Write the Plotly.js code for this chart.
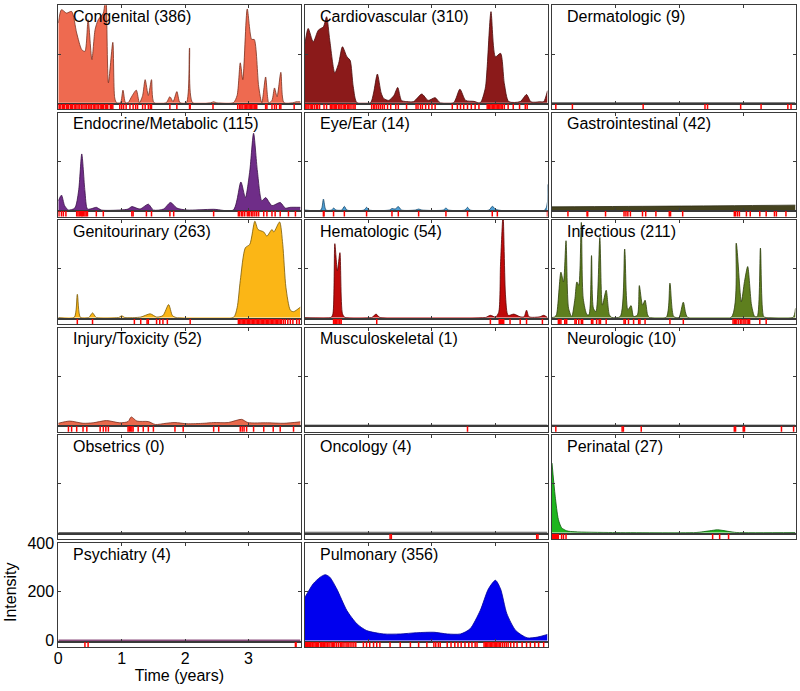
<!DOCTYPE html>
<html>
<head>
<meta charset="utf-8">
<script src="https://cdn.plot.ly/plotly-3.0.1.min.js"></script>
<style>html,body{margin:0;padding:0;background:#fff;}#chart{width:800px;height:691px;}</style>
</head>
<body>
<div id="chart"></div>
<script>
// ---------------- DATA ----------------
const categories = ["Congenital","Cardiovascular","Dermatologic","Endocrine/Metabolic","Eye/Ear","Gastrointestinal","Genitourinary","Hematologic","Infectious","Injury/Toxicity","Musculoskeletal","Neurologic","Obsetrics","Oncology","Perinatal","Psychiatry","Pulmonary"];
const counts = [386,310,9,115,14,42,263,54,211,52,1,10,0,4,27,4,356];
const xTickVals = [0,1,2,3];
const xTickText = ["0","1","2","3"];
const yTickVals = [0,200,400];
const yTickText = ["0","200","400"];

const congenitalTime = [0,0.05,0.13,0.21,0.29,0.37,0.42,0.47,0.53,0.58,0.63,0.71,0.75,0.79,0.86,0.89,0.92,0.98,1.02,1.06,1.1,1.16,1.23,1.28,1.33,1.37,1.42,1.47,1.51,1.7,1.76,1.81,1.87,1.92,2.02,2.07,2.12,2.4,2.45,2.5,2.76,2.82,2.87,2.91,2.98,3.05,3.09,3.16,3.21,3.27,3.32,3.37,3.41,3.45,3.51,3.56,3.7,3.75,3.82];
const congenitalIntensity = [327,382,368,375,286,218,211,341,177,300,341,368,450,82,248,20,0,0,52,0,0,27,52,0,30,95,30,95,0,0,25,5,46,0,0,225,0,0,4,0,0,30,164,95,385,260,260,68,0,106,0,10,61,25,125,0,0,4,4];
const congenitalEvents = [0.01,0.02,0.04,0.07,0.08,0.1,0.13,0.15,0.16,0.19,0.21,0.22,0.25,0.27,0.28,0.31,0.33,0.36,0.37,0.39,0.42,0.44,0.45,0.48,0.5,0.52,0.55,0.57,0.58,0.61,0.63,0.66,0.68,0.7,0.71,0.74,0.76,0.78,0.82,0.84,0.86,0.97,1.0,1.03,1.07,1.13,1.18,1.22,1.25,1.33,1.37,1.42,1.45,1.47,1.76,1.87,2.07,2.08,2.44,2.83,2.86,2.88,2.9,2.93,2.95,2.97,2.99,3.01,3.03,3.05,3.07,3.09,3.11,3.13,3.27,3.29,3.37,3.41,3.44,3.49,3.51,3.72];

const cardiovascularTime = [0,0.05,0.13,0.21,0.29,0.34,0.39,0.47,0.53,0.59,0.66,0.71,0.76,0.82,1.03,1.08,1.14,1.2,1.24,1.32,1.4,1.46,1.52,1.6,1.71,1.84,1.94,2.05,2.13,2.34,2.44,2.53,2.66,2.76,2.84,2.87,2.93,3.0,3.08,3.14,3.21,3.39,3.49,3.56,3.7,3.76,3.82];
const cardiovascularIntensity = [244,305,250,298,312,353,257,123,162,230,189,175,66,0,0,40,118,40,18,10,30,63,10,5,5,36,10,21,0,0,56,10,6,0,60,148,374,189,203,79,5,5,34,4,4,5,50];
const cardiovascularEvents = [0.01,0.03,0.05,0.08,0.1,0.12,0.15,0.18,0.2,0.23,0.3,0.34,0.4,0.42,0.44,0.46,0.48,0.5,0.53,0.55,0.57,0.6,0.62,0.64,0.67,0.69,0.71,0.74,0.77,0.79,1.05,1.08,1.1,1.13,1.16,1.19,1.22,1.25,1.3,1.35,1.43,1.47,1.6,1.75,1.78,1.82,1.85,1.9,1.95,2.0,2.05,2.32,2.4,2.45,2.5,2.56,2.62,2.68,2.74,2.87,2.89,2.91,2.93,2.95,2.97,2.99,3.01,3.03,3.05,3.07,3.09,3.11,3.14,3.2,3.28,3.38,3.47,3.5];

const dermatologicTime = [0,3.82];
const dermatologicIntensity = [1,1];
const dermatologicEvents = [0.06,0.32,1.43,2.4,2.44,2.96,3.28,3.7,3.75];

const endocrineTime = [0,0.05,0.1,0.16,0.26,0.32,0.37,0.42,0.46,0.53,0.6,0.68,0.97,1.1,1.16,1.29,1.42,1.5,1.66,1.77,1.87,2.03,2.45,2.76,2.88,2.95,3.02,3.08,3.14,3.21,3.27,3.37,3.5,3.58,3.66,3.82];
const endocrineIntensity = [38,61,18,0,8,78,230,78,4,6,11,0,0,4,14,4,24,0,4,31,8,0,3,0,115,51,160,315,160,38,51,18,31,8,11,11];
const endocrineEvents = [0.01,0.05,0.08,0.12,0.29,0.31,0.33,0.35,0.37,0.38,0.4,0.42,0.44,0.46,0.6,0.71,1.16,1.18,1.39,1.47,1.76,1.82,2.45,2.84,2.86,2.89,2.91,2.94,2.98,3.0,3.02,3.05,3.07,3.1,3.13,3.16,3.24,3.29,3.37,3.42,3.5,3.63,3.74];

const eyeEarTime = [0,0.25,0.29,0.33,0.42,0.45,0.49,0.58,0.62,0.66,0.93,0.97,1.01,1.33,1.37,1.42,1.47,1.52,1.74,1.79,1.84,2.18,2.22,2.26,2.52,2.56,2.6,2.9,2.95,3.0,3.04,3.78,3.82];
const eyeEarIntensity = [0,0,45,0,0,8,0,0,15,0,0,11,0,0,6,4,14,0,0,4,0,0,8,0,0,11,0,0,15,4,0,0,105];
const eyeEarEvents = [0.29,0.3,0.45,0.62,0.97,1.37,1.47,1.79,2.22,2.56,2.95,3.03,3.82,3.84];

const gastroTime = [0,1.9,3.82];
const gastroIntensity = [13,16,20];
const gastroEvents = [0.25,0.55,0.56,0.84,1.13,1.16,1.19,1.23,1.42,1.47,1.63,1.84,1.86,2.05,2.86,2.88,2.91,2.94,3.05,3.11,3.26,3.36,3.49,3.52,3.67];

const genitoTime = [0,0.25,0.3,0.35,0.48,0.54,0.6,0.95,1.0,1.05,1.3,1.45,1.55,1.65,1.74,1.8,1.86,2.76,2.82,2.87,2.95,3.02,3.1,3.15,3.24,3.29,3.37,3.4,3.49,3.54,3.59,3.66,3.71,3.82];
const genitoIntensity = [0,0,95,0,0,19,0,0,7,0,2,15,2,8,53,8,0,0,40,151,286,300,395,361,351,334,361,351,392,300,124,30,24,43];
const genitoEvents = [0.3,0.54,1.2,1.3,1.4,1.42,1.55,1.6,1.65,1.72,2.08,2.84,2.86,2.88,2.9,2.92,2.94,2.96,2.98,3.0,3.02,3.04,3.06,3.08,3.1,3.12,3.14,3.16,3.18,3.2,3.22,3.24,3.26,3.28,3.3,3.32,3.34,3.36,3.38,3.4,3.42,3.44,3.46,3.48,3.5,3.52,3.55,3.58,3.62,3.66,3.7,3.76,3.8];

const hematoTime = [0,0.41,0.44,0.47,0.51,0.55,0.59,0.63,1.05,1.12,1.18,2.84,2.92,3.0,3.05,3.08,3.12,3.16,3.2,3.29,3.39,3.45,3.49,3.53,3.7,3.76,3.82];
const hematoIntensity = [0,0,16,303,192,266,16,0,0,14,0,0,9,2,20,219,420,84,9,14,3,3,30,3,3,9,0];
const hematoEvents = [0.45,0.47,0.48,0.5,0.52,0.54,0.55,0.57,1.13,2.92,3.06,3.08,3.1,3.11,3.13,3.23,3.39,3.49,3.74];

const infectiousTime = [0,0.04,0.07,0.14,0.18,0.22,0.26,0.31,0.36,0.39,0.42,0.46,0.49,0.55,0.58,0.62,0.65,0.69,0.75,0.79,0.85,0.9,0.94,1.07,1.14,1.19,1.24,1.28,1.34,1.37,1.42,1.46,1.5,1.53,1.79,1.85,1.91,1.99,2.06,2.13,2.81,2.89,2.97,3.02,3.07,3.13,3.18,3.22,3.27,3.32,3.36,3.78,3.82];
const infectiousIntensity = [0,2,11,186,146,315,38,4,78,146,132,390,78,11,11,254,38,24,328,51,112,11,0,4,281,31,49,4,11,131,51,71,11,0,0,141,4,0,63,0,0,305,65,148,209,51,4,4,285,4,0,0,38];
const infectiousEvents = [0.1,0.12,0.14,0.2,0.22,0.23,0.36,0.38,0.42,0.46,0.48,0.62,0.64,0.7,0.74,0.76,0.85,1.13,1.15,1.2,1.28,1.36,1.38,1.46,1.85,2.06,2.84,2.86,2.88,2.9,2.93,2.96,2.98,3.01,3.03,3.06,3.08,3.1,3.26,3.36];

const injuryTime = [0,0.18,0.39,0.55,0.76,0.97,1.1,1.15,1.24,1.42,1.53,1.7,1.84,2.03,2.3,2.45,2.68,2.89,2.99,3.3,3.56,3.82];
const injuryIntensity = [8,17,8,10,19,10,15,34,17,15,3,8,11,6,8,11,11,24,11,10,8,14];
const injuryEvents = [0.16,0.21,0.29,0.39,0.45,0.66,0.71,0.75,0.79,1.1,1.12,1.14,1.16,1.18,1.26,1.34,1.42,1.5,1.84,1.97,2.45,2.53,2.87,2.9,2.93,2.97,3.08,3.24,3.39,3.5,3.71];

const musculoTime = [0,3.82];
const musculoIntensity = [0.5,0.5];
const musculoEvents = [2.56];

const neuroTime = [0,3.82];
const neuroIntensity = [0.5,0.5];
const neuroEvents = [0.06,1.1,1.12,1.4,2.86,2.88,3.0,3.02,3.6,3.79];

const obstetricsTime = [0,3.82];
const obstetricsIntensity = [0,0];
const obstetricsEvents = [];

const oncologyTime = [0,3.82];
const oncologyIntensity = [1,1];
const oncologyEvents = [1.34,1.36,3.65,3.67];

const perinatalTime = [0,0.05,0.1,0.15,0.23,0.36,0.95,2.26,2.47,2.6,2.76,2.9,3.82];
const perinatalIntensity = [285,149,54,20,7,3,0,0,7,11,5,0,0];
const perinatalEvents = [0,0.01,0.02,0.03,0.04,0.05,0.06,0.07,0.08,0.09,0.1,0.15,0.18,0.22,2.52,2.63,2.77];

const psychiatryTime = [0,3.82];
const psychiatryIntensity = [0.5,0.5];
const psychiatryEvents = [0.42,0.47,3.74,3.75];

const pulmonaryTime = [0,0.13,0.24,0.32,0.39,0.5,0.66,0.82,0.97,1.24,1.5,1.76,2.03,2.24,2.45,2.6,2.76,2.89,3.0,3.08,3.18,3.32,3.5,3.66,3.82];
const pulmonaryIntensity = [178,233,260,270,260,212,123,68,41,27,27,32,34,27,27,48,123,212,247,212,110,41,11,14,25];
const pulmonaryEvents = [0.01,0.02,0.04,0.06,0.07,0.09,0.11,0.12,0.14,0.16,0.18,0.2,0.21,0.24,0.26,0.27,0.29,0.31,0.33,0.35,0.36,0.38,0.41,0.43,0.45,0.47,0.5,0.53,0.56,0.58,0.6,0.63,0.66,0.68,0.71,0.74,0.77,0.8,0.92,0.97,1.02,1.08,1.13,1.18,1.34,1.5,1.66,1.79,1.92,2.03,2.06,2.1,2.13,2.24,2.3,2.36,2.41,2.46,2.52,2.58,2.63,2.68,2.71,2.82,2.84,2.86,2.88,2.9,2.92,2.94,2.96,2.98,3.0,3.02,3.04,3.06,3.08,3.11,3.14,3.17,3.2,3.24,3.29,3.34,3.42,3.49,3.55,3.62,3.68,3.76];

// ---------------- STYLES ----------------
const fillColors = ['#ee6a50','#8b1a1a','#999999','#6f2d88','#4d9fd6','#45431f','#fbb616','#c00a0a','#5e7f1e','#e9694c','#555555','#555555','#555555','#333333','#1fb51f','#8c4f7f','#0000ee'];
const lineColors = ['#7a3020','#4a0a0a','#555555','#3a1048','#1f4f70','#2a2810','#7a5a08','#600000','#2e400c','#7a3020','#444444','#444444','#444444','#222222','#0d5a0d','#8c4f7f','#00009a'];
const hasFill = [true,true,false,true,true,true,true,true,true,true,false,false,false,false,true,false,true];

const series = [
  [congenitalTime,congenitalIntensity,congenitalEvents],
  [cardiovascularTime,cardiovascularIntensity,cardiovascularEvents],
  [dermatologicTime,dermatologicIntensity,dermatologicEvents],
  [endocrineTime,endocrineIntensity,endocrineEvents],
  [eyeEarTime,eyeEarIntensity,eyeEarEvents],
  [gastroTime,gastroIntensity,gastroEvents],
  [genitoTime,genitoIntensity,genitoEvents],
  [hematoTime,hematoIntensity,hematoEvents],
  [infectiousTime,infectiousIntensity,infectiousEvents],
  [injuryTime,injuryIntensity,injuryEvents],
  [musculoTime,musculoIntensity,musculoEvents],
  [neuroTime,neuroIntensity,neuroEvents],
  [obstetricsTime,obstetricsIntensity,obstetricsEvents],
  [oncologyTime,oncologyIntensity,oncologyEvents],
  [perinatalTime,perinatalIntensity,perinatalEvents],
  [psychiatryTime,psychiatryIntensity,psychiatryEvents],
  [pulmonaryTime,pulmonaryIntensity,pulmonaryEvents]
];

// ---------------- LAYOUT ----------------
const W = 800, H = 691;
const colPx = [[58.3,300.5],[305,547.5],[552,795.5]];
const rowTopPx = [5.3,112.5,220,327.7,435,543];
const MAIN_H = 98.5, RUG_H = 5.5;
const XMAX = 3.82;
const FONT = 'Arial, "Liberation Sans", Helvetica, sans-serif';
const AX_COLOR = '#3a3a3a';
const LABEL_PANEL = 15; // Psychiatry panel carries the axes labels

const traces = [];
const layout = {
  width: W, height: H,
  margin: {l:0, r:0, t:0, b:0, pad:0},
  paper_bgcolor: '#fff', plot_bgcolor: '#fff',
  showlegend: false,
  font: {family: FONT, size: 16, color: '#000'},
  annotations: []
};
const nm = n => (n === 1 ? '' : String(n));

categories.forEach((cat, i) => {
  const r = Math.floor(i / 3), c = i % 3;
  const mainN = 2*i + 1, rugN = 2*i + 2;
  const top = rowTopPx[r];
  const xd = [colPx[c][0]/W, colPx[c][1]/W];
  const mainYd = [1 - (top + MAIN_H)/H, 1 - top/H];
  const rugYd = [1 - (top + MAIN_H + RUG_H)/H, 1 - (top + MAIN_H)/H];
  const isLabel = (i === LABEL_PANEL);

  layout['xaxis' + nm(mainN)] = {
    domain: xd, range: [0, XMAX], anchor: 'y' + nm(mainN),
    showline: true, mirror: 'ticks', linecolor: AX_COLOR, linewidth: 1,
    ticks: 'inside', ticklen: 3, tickcolor: AX_COLOR, tickvals: xTickVals,
    showticklabels: false, showgrid: false, zeroline: false, fixedrange: true
  };
  layout['yaxis' + nm(mainN)] = {
    domain: mainYd, range: [-4, 400], anchor: 'x' + nm(mainN),
    showline: true, mirror: 'ticks', linecolor: AX_COLOR, linewidth: 1,
    ticks: 'inside', ticklen: 3, tickcolor: AX_COLOR,
    tickvals: yTickVals, ticktext: yTickText,
    showticklabels: isLabel, tickfont: {size: 16, family: FONT, color: '#000'},
    showgrid: false, zeroline: false, fixedrange: true,
    title: isLabel ? {text: 'Intensity', font: {size: 16, family: FONT, color: '#000'}, standoff: 6} : {text: ''}
  };
  layout['xaxis' + nm(rugN)] = {
    domain: xd, range: [0, XMAX], anchor: 'y' + nm(rugN),
    showline: true, mirror: true, linecolor: AX_COLOR, linewidth: 1,
    ticks: '', tickvals: xTickVals, ticktext: xTickText,
    showticklabels: isLabel, tickfont: {size: 16, family: FONT, color: '#000'},
    ticklabelstandoff: -3,
    showgrid: false, zeroline: false, fixedrange: true,
    title: isLabel ? {text: 'Time (years)', font: {size: 16, family: FONT, color: '#000'}, standoff: 2} : {text: ''}
  };
  layout['yaxis' + nm(rugN)] = {
    domain: rugYd, range: [0, 1], anchor: 'x' + nm(rugN),
    showline: true, mirror: true, linecolor: AX_COLOR, linewidth: 1,
    ticks: '', showticklabels: false, showgrid: false, zeroline: false, fixedrange: true
  };

  const [tx, ty, ev] = series[i];
  traces.push({
    type: 'scatter', mode: 'lines', x: tx, y: ty,
    xaxis: 'x' + nm(mainN), yaxis: 'y' + nm(mainN),
    fill: hasFill[i] ? 'tozeroy' : 'none',
    fillcolor: fillColors[i],
    line: {color: lineColors[i], width: (i === LABEL_PANEL ? 2 : 0.8), shape: 'spline', smoothing: 0.7},
    hoverinfo: 'skip'
  });
  traces.push({
    type: 'scatter', mode: 'markers', x: ev, y: ev.map(() => 0.5),
    xaxis: 'x' + nm(rugN), yaxis: 'y' + nm(rugN),
    marker: {symbol: 'line-ns', size: 4.5, line: {color: '#ff0000', width: 1.5}},
    cliponaxis: true, hoverinfo: 'skip'
  });
  layout.annotations.push({
    xref: 'x' + nm(mainN) + ' domain', yref: 'y' + nm(mainN) + ' domain',
    x: 13/242, y: 1 - 11/MAIN_H, xanchor: 'left', yanchor: 'middle',
    text: cat + ' (' + counts[i] + ')', showarrow: false,
    font: {size: 16, family: FONT, color: '#000'}
  });
});

Plotly.newPlot('chart', traces, layout, {staticPlot: true, displayModeBar: false});
</script>
</body>
</html>
